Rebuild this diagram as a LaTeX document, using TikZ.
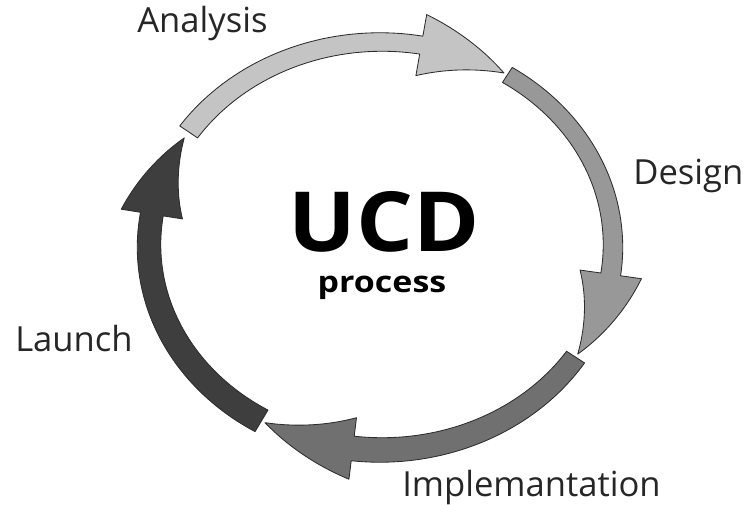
\documentclass[tikz,border=0pt]{standalone}
\usepackage{fontspec}
\setmainfont{Open Sans}
\usepackage{tikz}

\definecolor{grisA}{RGB}{196,196,196}
\definecolor{grisD}{RGB}{152,152,152}
\definecolor{grisI}{RGB}{112,112,112}
\definecolor{grisL}{RGB}{62,62,62}
\definecolor{trait}{RGB}{45,45,45}

%fleche courbe : depart, debut de la pointe, pointe, couleur
\newcommand{\fleche}[4]{%
	\filldraw[fleche,fill=#4]
	plot[domain=#1:#2] ({\CX+(\RA+\W)*cos(\x)},{\CY-(\RB+\W)*sin(\x)})
	-- plot[domain=#2:#3] ({\CX+(\RA+\H*(\x-#3)/(#2-#3))*cos(\x)},{\CY-(\RB+\H*(\x-#3)/(#2-#3))*sin(\x)})
	-- plot[domain=#3:#2] ({\CX+(\RA-\H*(\x-#3)/(#2-#3))*cos(\x)},{\CY-(\RB-\H*(\x-#3)/(#2-#3))*sin(\x)})
	-- plot[domain=#2:#1] ({\CX+(\RA-\W)*cos(\x)},{\CY-(\RB-\W)*sin(\x)})
	-- cycle;}

\begin{document}
\begin{tikzpicture}[x=0.025cm,y=-0.025cm]

\tikzset{fleche/.style={draw=trait,line width=0.6pt,line join=round,samples=40}, %style des fleches
	etiquette/.style={inner sep=0pt,anchor=base west,text=black!85,font=\fontsize{24.6}{28}\selectfont}}

\useasboundingbox (0,0) rectangle (746,505);

%centre et demi-axes de l'anneau
\def\CX{381} \def\CY{246}
\def\RA{232} \def\RB{204}
\def\W{(10.75-1.5*sin(\x)-cos(\x))} %demi-largeur du corps
\def\H{31} %demi-largeur de la pointe

%----------les quatre fleches------------
\fleche{146}{80}{58}{grisA}     % Analysis
\fleche{57}{-8}{-32}{grisD}     % Design
\fleche{-33}{-97}{-120}{grisI}  % Implementation
\fleche{-121}{-189}{-212}{grisL} % Launch

%----------textes------------
\node[etiquette] (analysis) at (137,33) {Analysis};
\node[etiquette] (design) at (633,185) {Design};
\node[etiquette] (implem) at (402,497) {Implemantation};
\node[etiquette] (launch) at (15,352) {Launch};

\node[inner sep=0pt,anchor=base,font=\bfseries\fontsize{59}{64}\selectfont] (ucd) at (384,252) {\scalebox{1.08}[1]{UCD}};
\node[inner sep=0pt,anchor=base,font=\bfseries\fontsize{21}{26}\selectfont] (process) at (382,293) {\scalebox{1.15}[1]{process}};

\end{tikzpicture}
\end{document}
